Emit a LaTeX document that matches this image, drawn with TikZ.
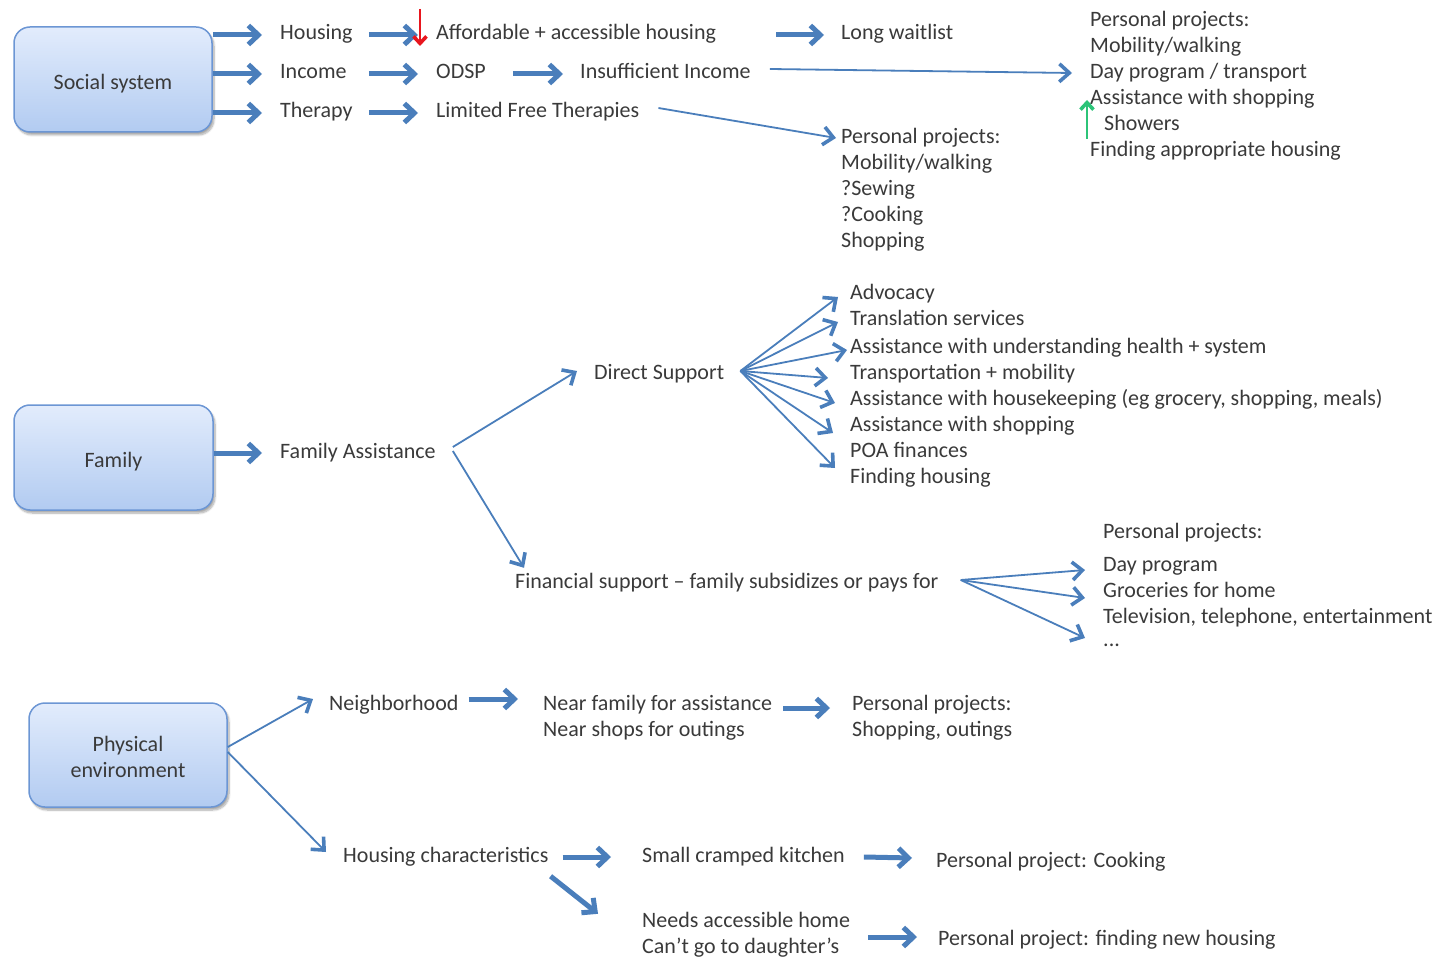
\documentclass[tikz,border=0pt]{standalone}
\usepackage{fontspec}
\setmainfont{Carlito}
\usetikzlibrary{arrows.meta,shadows.blur}
\definecolor{ablue}{RGB}{74,126,187}
\definecolor{ink}{RGB}{58,58,58}
\definecolor{boxtop}{RGB}{226,236,252}
\definecolor{boxbot}{RGB}{178,203,241}
\definecolor{boxline}{RGB}{108,150,212}
\definecolor{markred}{RGB}{232,22,30}
\definecolor{markgreen}{RGB}{44,196,120}
% box labels sit a little below the geometric centre
\newcommand{\boxlabel}[1]{\raisebox{-4.5pt}[\height][\depth]{#1}}
\begin{document}
\begin{tikzpicture}[x=1pt,y=-1pt,
  txt/.style={anchor=west,inner sep=0pt,text height=15pt,text depth=5pt,text=ink,
    font=\fontsize{22}{26}\selectfont},
  factor/.style={draw=boxline,line width=1.5pt,rounded corners=16pt,
    top color=boxtop,bottom color=boxbot,minimum width=198pt,minimum height=105pt,
    align=center,text=ink,font=\fontsize{22}{26}\selectfont,
    blur shadow={shadow xshift=2pt,shadow yshift=-3pt,shadow blur steps=8,shadow opacity=35}},
  fat/.style={draw=ablue,line width=5pt,-{Straight Barb[length=10pt,width=19pt]}},
  slim/.style={draw=ablue,line width=1.8pt,-{Straight Barb[length=10pt,width=18pt,line width'=3.6pt]}},
  pointer/.style={line width=1.6pt,-{Straight Barb[length=7pt,width=13pt,line width'=3.6pt]}},
]
\useasboundingbox (0,0) rectangle (1437,957);

% ---------- Social system ----------
\node[factor] (social) at (113,79.5) {\boxlabel{Social system}};
\node[txt] (housing) at (280,35) {Housing};
\node[txt] (income)  at (280,74) {Income};
\node[txt] (therapy) at (280,113) {Therapy};
\node[txt] (afford)  at (436,35) {Affordable + accessible housing};
\node[txt] (odsp)    at (436,74) {ODSP};
\node[txt] (insuff)  at (580,74) {Insufficient Income};
\node[txt] (limited) at (436,113) {Limited Free Therapies};
\node[txt] (waitlist) at (841,35) {Long waitlist};

\node[txt] (p1a) at (1090,22)  {Personal projects:};
\node[txt] (p1b) at (1090,48)  {Mobility/walking};
\node[txt] (p1c) at (1090,74)  {Day program / transport};
\node[txt] (p1d) at (1090,100) {Assistance with shopping};
\node[txt] (p1e) at (1104,126) {Showers};
\node[txt] (p1f) at (1090,152) {Finding appropriate housing};

\node[txt] (p2a) at (841,139) {Personal projects:};
\node[txt] (p2b) at (841,165) {Mobility/walking};
\node[txt] (p2c) at (841,191) {?Sewing};
\node[txt] (p2d) at (841,217) {?Cooking};
\node[txt] (p2e) at (841,243) {Shopping};

\draw[fat] (social.east |- housing.west) -- ([xshift=-18pt]housing.west);
\draw[fat] (social.east |- income.west) -- ([xshift=-18pt]income.west);
\draw[fat] (social.east |- therapy.west) -- ([xshift=-18pt]therapy.west);
\draw[fat] ([xshift=16pt]housing.east) -- ([xshift=-18pt]afford.west);
\draw[fat] (income.east -| housing.east) ++(16pt,0) -- ([xshift=-18pt]odsp.west);
\draw[fat] (therapy.east -| housing.east) ++(16pt,0) -- ([xshift=-18pt]limited.west);
\draw[fat] ([xshift=27pt]odsp.east) -- ([xshift=-17pt]insuff.west);
\draw[fat] ([xshift=60pt]afford.east) -- ([xshift=-17pt]waitlist.west);
\draw[slim] ([xshift=19pt,yshift=5pt]insuff.east) -- ([xshift=-18pt,yshift=1pt]p1c.west);
\draw[slim] ([xshift=19pt,yshift=5pt]limited.east) -- ([xshift=-5pt,yshift=1pt]p2a.west);

\coordinate (redtop) at (420,9);
\draw[pointer,draw=markred] (redtop) -- ([xshift=-16pt,yshift=-11pt]afford.west);
\coordinate (greenfoot) at (1087,139);
\draw[pointer,draw=markgreen] (greenfoot) -- ([xshift=-3pt]p1d.west);

% ---------- Family ----------
\node[factor,minimum width=199pt] (family) at (113.5,457.5) {\boxlabel{Family}};
\node[txt] (famassist) at (280,453) {Family Assistance};
\node[txt] (direct) at (594,374) {Direct Support};
\node[txt] (ds1) at (850,295) {Advocacy};
\node[txt] (ds2) at (850,321) {Translation services};
\node[txt] (ds3) at (850,348) {Assistance with understanding health + system};
\node[txt] (ds4) at (850,374) {Transportation + mobility};
\node[txt] (ds5) at (850,400) {Assistance with housekeeping (eg grocery, shopping, meals)};
\node[txt] (ds6) at (850,426) {Assistance with shopping};
\node[txt] (ds7) at (850,452) {POA finances};
\node[txt] (ds8) at (850,478) {Finding housing};
\node[txt] (financial) at (515,583) {Financial support – family subsidizes or pays for};
\node[txt] (fa) at (1103,533) {Personal projects:};
\node[txt] (fb) at (1103,566) {Day program};
\node[txt] (fc) at (1103,592) {Groceries for home};
\node[txt] (fd) at (1103,618) {Television, telephone, entertainment};
\node[txt] (fe) at (1103,641) {...};

\draw[fat] (family.east |- famassist.west) -- ([xshift=-18pt]famassist.west);
\draw[slim] ([xshift=17pt,yshift=6pt]famassist.east) -- ([xshift=-17pt,yshift=3pt]direct.west);
\draw[slim] ([xshift=17pt,yshift=2pt]famassist.east) -- ([xshift=9pt,yshift=5pt]financial.north west);
\draw[slim] ([xshift=16pt,yshift=3pt]direct.east) -- ([xshift=-12pt,yshift=-2pt]ds1.west);
\draw[slim] ([xshift=16pt,yshift=3pt]direct.east) -- ([xshift=-12pt,yshift=-1pt]ds2.west);
\draw[slim] ([xshift=16pt,yshift=3pt]direct.east) -- ([xshift=-3pt,yshift=-2pt]ds3.west);
\draw[slim] ([xshift=16pt,yshift=3pt]direct.east) -- ([xshift=-22pt,yshift=-4pt]ds4.west);
\draw[slim] ([xshift=16pt,yshift=3pt]direct.east) -- ([xshift=-15pt,yshift=-3pt]ds5.west);
\draw[slim] ([xshift=16pt,yshift=3pt]direct.east) -- ([xshift=-17pt,yshift=-7pt]ds6.west);
\draw[slim] ([xshift=16pt,yshift=3pt]direct.east) -- ([xshift=-15pt,yshift=10pt]ds8.west);
\draw[slim] ([xshift=22pt,yshift=3pt]financial.east) -- ([xshift=-18pt,yshift=-4pt]fb.west);
\draw[slim] ([xshift=22pt,yshift=3pt]financial.east) -- ([xshift=-18pt,yshift=-6pt]fc.west);
\draw[slim] ([xshift=22pt,yshift=3pt]financial.east) -- ([xshift=-18pt,yshift=3pt]fe.west);

% ---------- Physical environment ----------
\node[factor,minimum height=104pt] (phys) at (128,755)
  {\boxlabel{\begin{tabular}{@{}c@{}}Physical\\environment\end{tabular}}};
\node[txt] (neigh) at (329,705) {Neighborhood};
\node[txt] (nf1) at (543,705) {Near family for assistance};
\node[txt] (nf2) at (543,731) {Near shops for outings};
\node[txt] (pp3a) at (852,705) {Personal projects:};
\node[txt] (pp3b) at (852,731) {Shopping, outings};
\node[txt] (housechar) at (343,857) {Housing characteristics};
\node[txt] (kitchen) at (642,857) {Small cramped kitchen};
\node[txt] (cooking) at (936,862) {Personal project: Cooking};
\node[txt] (needs1) at (642,922) {Needs accessible home};
\node[txt] (needs2) at (642,948) {Can’t go to daughter’s};
\node[txt] (newhousing) at (938,940) {Personal project: finding new housing};

\draw[slim] ([yshift=8pt]phys.east) -- ([xshift=-16pt,yshift=6pt]neigh.west);
\draw[slim] ([yshift=3pt]phys.east) -- ([xshift=-17pt,yshift=5pt]housechar.west);
\draw[fat] ([xshift=10pt,yshift=6pt]neigh.east) -- ([xshift=-25pt,yshift=6pt]nf1.west);
\draw[fat] ([xshift=11pt,yshift=-3pt]nf1.east) -- ([xshift=-22pt,yshift=-3pt]pp3a.west);
\draw[fat] ([xshift=14pt]housechar.east) -- ([xshift=-31pt]kitchen.west);
\draw[fat] ([xshift=2pt,yshift=-9pt]housechar.south east) -- ([xshift=-44pt,yshift=-2pt]needs1.north west);
\draw[fat] ([xshift=19pt]kitchen.east) -- ([xshift=-24pt,yshift=4pt]cooking.west);
\draw[fat] ([xshift=18pt,yshift=3pt]needs1.east |- newhousing.west) -- ([xshift=-21pt,yshift=3pt]newhousing.west);
\end{tikzpicture}
\end{document}
